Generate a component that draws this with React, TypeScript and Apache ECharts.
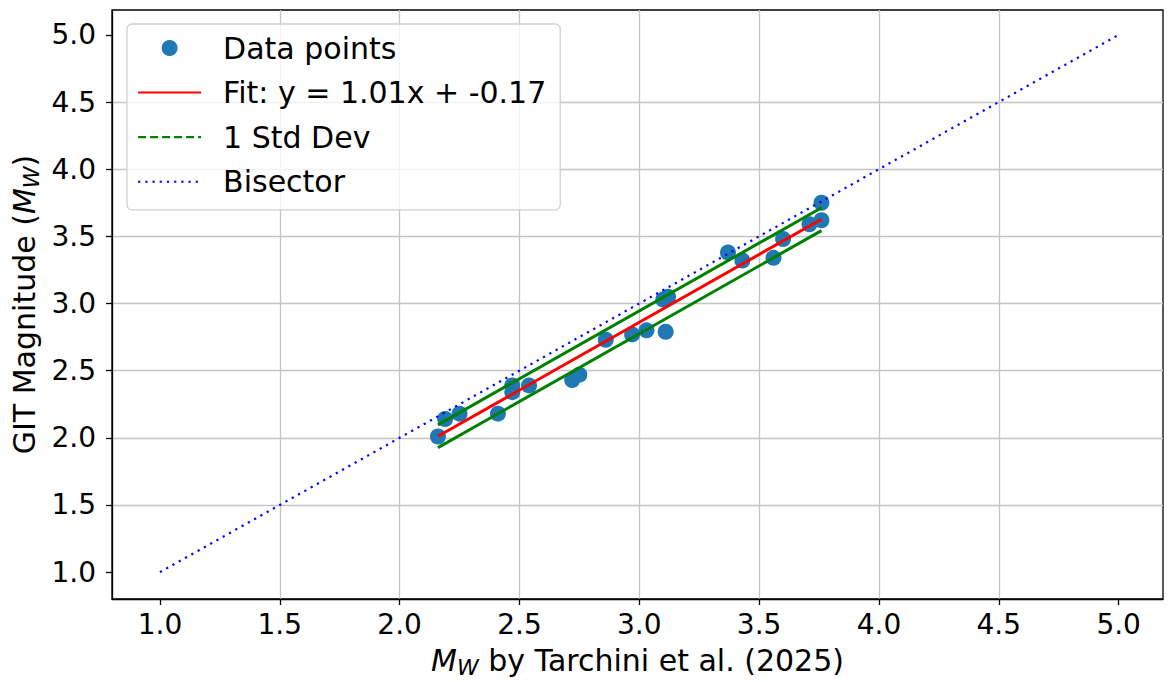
import React, { useEffect, useRef } from "react";
import * as echarts from "echarts";

// Moment magnitudes: Tarchini et al. (2025) vs. GIT estimates
const X_TARCHINI = [2.16, 2.19, 2.25, 2.41, 2.47, 2.47, 2.54, 2.72, 2.75, 2.86, 2.97, 3.03, 3.11, 3.10, 3.12, 3.37, 3.43, 3.56, 3.60, 3.71, 3.76, 3.76];
const Y_GIT = [2.01, 2.14, 2.18, 2.18, 2.34, 2.39, 2.39, 2.43, 2.47, 2.73, 2.77, 2.80, 2.79, 3.03, 3.05, 3.38, 3.32, 3.34, 3.48, 3.59, 3.62, 3.75];

// Linear fit and its residual standard deviation
const FIT_SLOPE = 1.01;
const FIT_INTERCEPT = -0.17;
const STD_DEV = 0.085;

// 1:1 reference line end points
const BISECTOR_RANGE = [1.0, 5.0];

// Axis extent and tick values (shared by both axes)
const AXIS_MIN = 0.8;
const AXIS_MAX = 5.185;
const TICKS = [1.0, 1.5, 2.0, 2.5, 3.0, 3.5, 4.0, 4.5, 5.0];

const FONT = "'DejaVu Sans', sans-serif";
const FIT_LABEL = `Fit: y = ${FIT_SLOPE.toFixed(2)}x + ${FIT_INTERCEPT.toFixed(2)}`;

const fit = (x: number) => FIT_SLOPE * x + FIT_INTERCEPT;

const nameStyle = {
  fontSize: 30,
  fontFamily: FONT,
  color: "#000",
  lineHeight: 36,
  rich: {
    i: { fontSize: 30, fontStyle: "italic", fontFamily: FONT, color: "#000", lineHeight: 36 },
    s: { fontSize: 22, fontStyle: "italic", fontFamily: FONT, color: "#000", lineHeight: 14, verticalAlign: "bottom" },
  },
};

function valueAxis(name: string, nameGap: number) {
  return {
    type: "value",
    min: AXIS_MIN,
    max: AXIS_MAX,
    splitNumber: 9,
    name,
    nameLocation: "middle",
    nameGap,
    nameMoveOverlap: false,
    nameTextStyle: nameStyle,
    axisLine: { show: true, onZero: false, lineStyle: { color: "#000", width: 1.3 } },
    axisTick: { show: true, length: 6, customValues: TICKS, lineStyle: { color: "#000", width: 1.3 } },
    axisLabel: {
      customValues: TICKS,
      formatter: (v: number) => v.toFixed(1),
      fontSize: 28,
      fontFamily: FONT,
      color: "#000",
    },
    splitLine: {
      show: true,
      showMinLine: false,
      showMaxLine: false,
      lineStyle: { color: "#c4c4c4", width: 1.3 },
    },
  };
}

// Line entries in the legend show only the stroke, no marker
const lineLegendItem = (name: string, extra: object = {}) => ({
  name,
  itemStyle: { opacity: 0 },
  ...extra,
});

export default function App() {
  const ref = useRef<HTMLDivElement>(null);

  useEffect(() => {
    if (!ref.current) return;
    const chart = echarts.init(ref.current, null, { renderer: "svg" });

    const points = X_TARCHINI.map((x, i) => [x, Y_GIT[i]]);
    const xLo = Math.min(...X_TARCHINI);
    const xHi = Math.max(...X_TARCHINI);

    const xAxis: any = valueAxis("{i|M}{s|W} by Tarchini et al. (2025)", 43);
    xAxis.axisLabel.margin = 11;
    const yAxis: any = valueAxis("GIT Magnitude ({i|M}{s|W})", 70);
    yAxis.axisLabel.margin = 16;

    chart.setOption({
      animation: false,
      backgroundColor: "#fff",
      textStyle: { fontFamily: FONT },
      grid: {
        left: 112,
        right: 5,
        top: 10,
        bottom: 83,
        show: true,
        borderColor: "#000",
        borderWidth: 1.3,
        backgroundColor: "transparent",
        outerBoundsMode: "none",
        containLabel: false,
      },
      xAxis,
      yAxis,
      legend: {
        orient: "vertical",
        left: 127,
        top: 24,
        padding: [9, 14, 13, 10],
        itemWidth: 63,
        itemHeight: 16,
        itemGap: 14.6,
        backgroundColor: "rgba(255,255,255,0.8)",
        borderColor: "#d0d0d0",
        borderWidth: 1.3,
        borderRadius: 5,
        selectedMode: false,
        textStyle: { fontSize: 30, fontFamily: FONT, color: "#000", lineHeight: 30, padding: [0, 0, 0, 17] },
        data: [
          { name: "Data points" },
          lineLegendItem(FIT_LABEL),
          lineLegendItem("1 Std Dev", { lineStyle: { type: [8, 4], width: 2.2 } }),
          lineLegendItem("Bisector"),
        ],
      },
      series: [
        {
          name: "Data points",
          type: "scatter",
          data: points,
          symbol: "circle",
          symbolSize: 16,
          itemStyle: { color: "#1f77b4", opacity: 1 },
        },
        {
          name: FIT_LABEL,
          type: "line",
          symbol: "none",
          data: [[xLo, fit(xLo)], [xHi, fit(xHi)]],
          lineStyle: { color: "#ff0000", width: 3 },
          itemStyle: { color: "#ff0000" },
        },
        {
          name: "1 Std Dev",
          type: "line",
          symbol: "none",
          data: [[xLo, fit(xLo) + STD_DEV], [xHi, fit(xHi) + STD_DEV]],
          lineStyle: { color: "#008000", width: 3 },
          itemStyle: { color: "#008000" },
        },
        {
          name: "1 Std Dev",
          type: "line",
          symbol: "none",
          data: [[xLo, fit(xLo) - STD_DEV], [xHi, fit(xHi) - STD_DEV]],
          lineStyle: { color: "#008000", width: 3 },
          itemStyle: { color: "#008000" },
        },
        {
          name: "Bisector",
          type: "line",
          symbol: "none",
          data: BISECTOR_RANGE.map((v) => [v, v]),
          lineStyle: { color: "#0000ff", width: 2.2, type: [2.2, 5] },
          itemStyle: { color: "#0000ff" },
        },
      ],
    });

    return () => chart.dispose();
  }, []);

  return (
    <div
      ref={ref}
      style={{ position: "fixed", left: 0, top: 0, width: 1168, height: 682, background: "#fff" }}
    />
  );
}
